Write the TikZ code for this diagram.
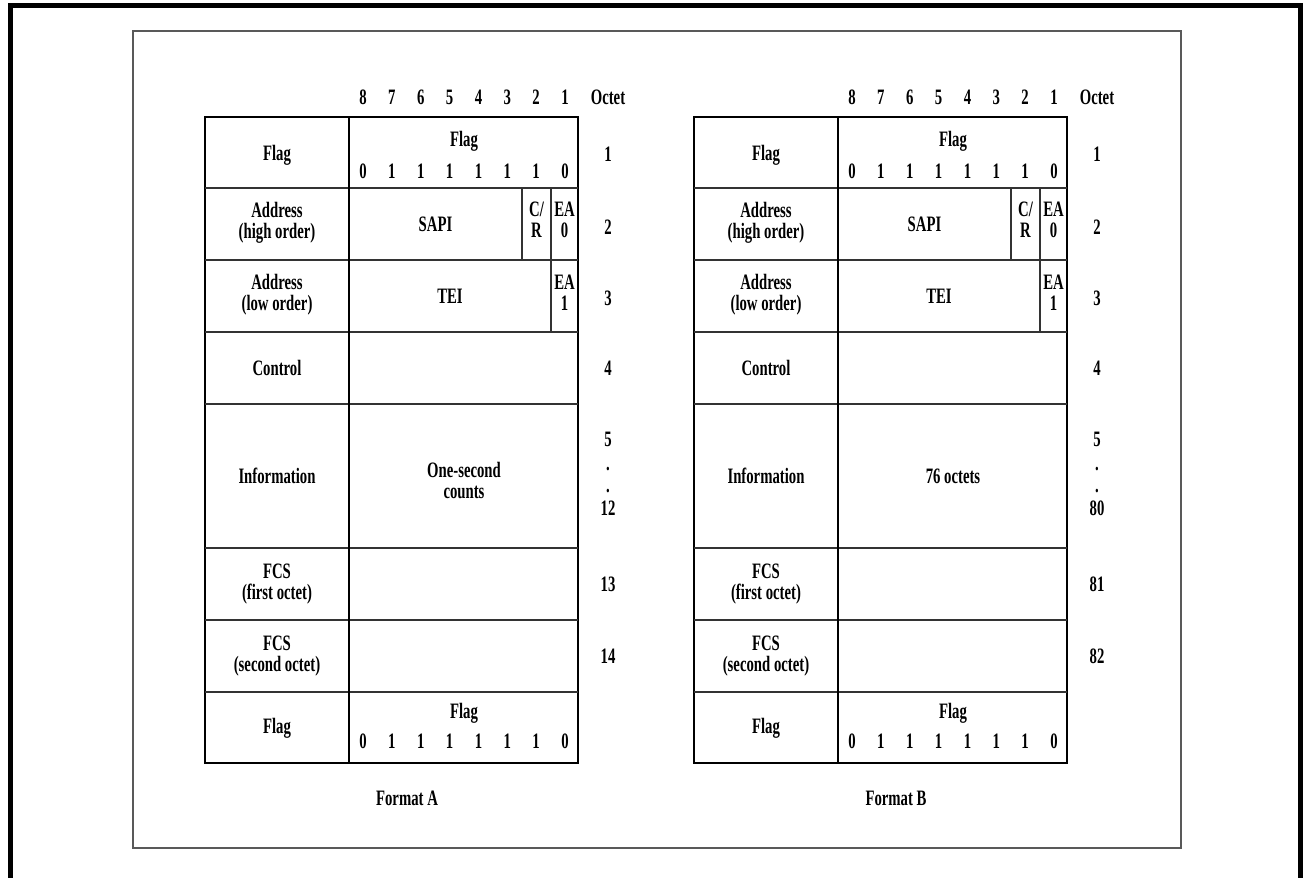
\documentclass[tikz,border=0pt]{standalone}
\usepackage{fontspec}
\newfontfamily\cfont{Liberation Serif}[FakeStretch=0.67]
\tikzset{
  txt/.style={font=\cfont\bfseries\fontsize{22}{21}\selectfont, inner sep=0pt, align=center},
  outerl/.style={line width=1.9pt},
  innerl/.style={line width=1.5pt, black!80},
  divl/.style={line width=2.4pt},
  pagel/.style={line width=1.4pt, black!65},
  framel/.style={line width=5pt},
}
\newcommand\frametab[7]{%
\begin{scope}[xshift=#2]
  \draw[outerl] (205,117) rectangle (578,763);
  \foreach \yy in {188,260,332,404,548,620,692} \draw[innerl] (205,\yy) -- (578,\yy);
  \draw[innerl] (522,188) -- (522,260);
  \draw[innerl] (551,188) -- (551,332);
  \draw[divl] (349,117) -- (349,763);
  \foreach \b [count=\i from 0] in {8,7,6,5,4,3,2,1}
    \node[txt] (#1-h\b) at (363+28.86*\i,97) {\b};
  \node[txt] (#1-octet) at (608,97) {Octet};
  % row 1
  \node[txt] (#1-l1) at (277,155) {Flag};
  \node[txt] (#1-f1) at (464,141) {Flag};
  \foreach \v [count=\i from 0] in {0,1,1,1,1,1,1,0}
    \node[txt] (#1-fa\i) at (363+28.86*\i,171) {\v};
  \node[txt] (#1-o1) at (608,154) {1};
  % row 2
  \node[txt] (#1-l2) at (277,223) {Address\\(high order)};
  \node[txt] (#1-sapi) at (435.5,224) {SAPI};
  \node[txt] (#1-cr) at (536.5,220) {C/\\R};
  \node[txt] (#1-ea0) at (564.5,220) {EA\\0};
  \node[txt] (#1-o2) at (608,227) {2};
  % row 3
  \node[txt] (#1-l3) at (277,295) {Address\\(low order)};
  \node[txt] (#1-tei) at (450,296) {TEI};
  \node[txt] (#1-ea1) at (564.5,293) {EA\\1};
  \node[txt] (#1-o3) at (608,298) {3};
  % row 4
  \node[txt] (#1-l4) at (277,368) {Control};
  \node[txt] (#1-o4) at (608,368) {4};
  % row 5
  \node[txt] (#1-l5) at (277,476) {Information};
  \node[txt] (#1-info) at (464,#4) {#3};
  \node[txt] (#1-o5a) at (608,439) {5};
  \node[txt] (#1-o5b) at (608,469) {.};
  \node[txt] (#1-o5c) at (608,491) {.};
  \node[txt] (#1-o5d) at (608,508) {#5};
  % row 6
  \node[txt] (#1-l6) at (277,584) {FCS\\(first octet)};
  \node[txt] (#1-o6) at (608,584) {#6};
  % row 7
  \node[txt] (#1-l7) at (277,656) {FCS\\(second octet)};
  \node[txt] (#1-o7) at (608,656) {#7};
  % row 8
  \node[txt] (#1-l8) at (277,728) {Flag};
  \node[txt] (#1-f8) at (464,713) {Flag};
  \foreach \v [count=\i from 0] in {0,1,1,1,1,1,1,0}
    \node[txt] (#1-fb\i) at (363+28.86*\i,741) {\v};
\end{scope}}
\begin{document}
\begin{tikzpicture}[x=1pt,y=-1pt]
  \useasboundingbox (0,0) rectangle (1304,878);
  \fill[white] (0,0) rectangle (1304,878);
  \draw[framel] (10.5,880) -- (10.5,5.5) -- (1300.5,5.5) -- (1300.5,880);
  \draw[pagel] (133,31) rectangle (1181,848);
  \frametab{a}{0pt}{One-second\\counts}{480}{12}{13}{14}
  \frametab{b}{489pt}{76 octets}{476}{80}{81}{82}
  \node[txt] (fmtA) at (407,798) {Format A};
  \node[txt] (fmtB) at (896,798) {Format B};
\end{tikzpicture}
\end{document}
